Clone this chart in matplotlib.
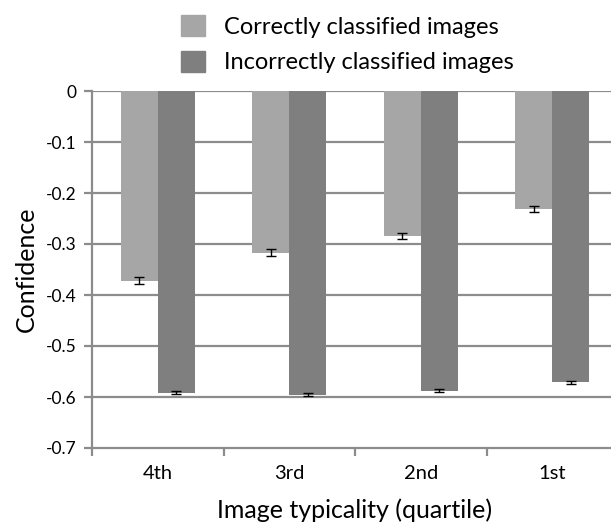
import numpy as np
import matplotlib
matplotlib.use('Agg')
from matplotlib import pyplot as plt
from matplotlib.patches import Patch

# data
quartiles = ['4th', '3rd', '2nd', '1st']
correct = [-0.372, -0.317, -0.285, -0.232]
correct_err = [0.007, 0.007, 0.006, 0.006]
incorrect = [-0.5915, -0.596, -0.588, -0.571]
incorrect_err = [0.003, 0.003, 0.003, 0.003]

plt.rcParams['font.family'] = ['Lato', 'DejaVu Sans']

fig = plt.figure(figsize=(6.11, 5.26), dpi=100)
# the plot runs a bit past the right edge of the picture, as in the reference
ax = fig.add_axes([92/611, 1 - 448/526, (618 - 92)/611, (448 - 91)/526])

x = np.arange(len(quartiles))
w = 0.28
grid_c = '#8c8c8c'
for yv in np.arange(-0.6, 0.01, 0.1):
    ax.axhline(yv, color=grid_c, lw=1.6, zorder=0)

ax.bar(x - w/2, correct, w, color='#a6a6a6', zorder=2)
ax.bar(x + w/2, incorrect, w, color='#7f7f7f', zorder=2)
ax.errorbar(x - w/2, correct, yerr=correct_err, fmt='none', ecolor='black',
            elinewidth=1, capsize=3.5, capthick=1, zorder=3)
ax.errorbar(x + w/2, incorrect, yerr=incorrect_err, fmt='none', ecolor='black',
            elinewidth=1, capsize=3.5, capthick=1, zorder=3)

ax.set_ylim(-0.7, 0)
ax.set_xlim(-0.5, 3.5)
ax.set_yticks(np.arange(-0.7, 0.01, 0.1))
ax.set_yticklabels(['-0.7', '-0.6', '-0.5', '-0.4', '-0.3', '-0.2', '-0.1', '0'])
ax.set_xticks(x)
ax.set_xticklabels(quartiles)
ax.set_xticks(np.arange(-0.5, 4, 1), minor=True)
ax.tick_params(axis='x', which='major', length=0, pad=12, labelsize=14.5)
ax.tick_params(axis='x', which='minor', length=6, width=1.6, color=grid_c)
ax.tick_params(axis='y', length=6, width=1.6, color=grid_c, labelsize=12.5, pad=5)

for s in ['top', 'right']:
    ax.spines[s].set_visible(False)
for s in ['left', 'bottom']:
    ax.spines[s].set_color(grid_c)
    ax.spines[s].set_linewidth(1.6)

ax.set_ylabel('Confidence', fontsize=18, labelpad=6)
ax.set_xlabel('Image typicality (quartile)', fontsize=18, labelpad=12)

handles = [Patch(color='#a6a6a6', label='Correctly classified images'),
           Patch(color='#7f7f7f', label='Incorrectly classified images')]
fig.legend(handles=handles, loc='upper left', bbox_to_anchor=(160/611, 1.012),
           frameon=False, fontsize=17, handlelength=1.0, handleheight=1.0,
           handletextpad=0.8, labelspacing=0.55)

fig.savefig('out.png', dpi=100)
